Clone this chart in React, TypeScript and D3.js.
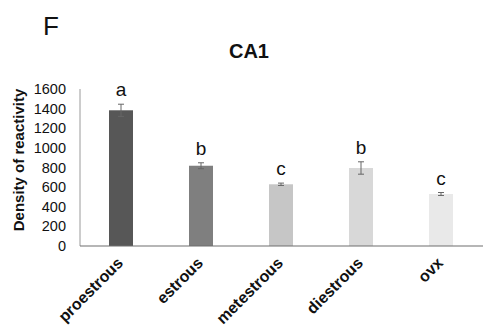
import React, { useEffect, useRef } from "react";
import { select, scaleBand, scaleLinear } from "d3";

const categories = ["proestrous", "estrous", "metestrous", "diestrous", "ovx"];
const means = [1383, 818, 629, 795, 530];
const errors = [62, 30, 12, 63, 15];
const letters = ["a", "b", "c", "b", "c"];
const barColors = ["#575757", "#7f7f7f", "#c6c6c6", "#d8d8d8", "#e9e9e9"];
const yTicks = [0, 200, 400, 600, 800, 1000, 1200, 1400, 1600];

function App() {
  const ref = useRef<SVGSVGElement>(null);

  useEffect(() => {
    const svg = select(ref.current);
    svg.selectAll("*").remove();
    const font = "Arial, 'Liberation Sans', sans-serif";

    const x = scaleBand().domain(categories).range([81, 481]).paddingInner(0.7).paddingOuter(0.35);
    const y = scaleLinear().domain([0, 1600]).range([246, 89]);

    svg.append("rect").attr("width", 491).attr("height", 334).attr("fill", "#fff");

    // panel letter + title
    svg.append("text").text("F").attr("x", 43).attr("y", 35)
      .attr("font-family", font).attr("font-size", 26).attr("fill", "#111");
    svg.append("text").text("CA1").attr("x", 249).attr("y", 58)
      .attr("text-anchor", "middle").attr("font-family", font)
      .attr("font-size", 20).attr("font-weight", "bold").attr("fill", "#111");

    // y axis
    svg.append("line").attr("x1", 80).attr("x2", 80).attr("y1", y(1600)).attr("y2", y(0))
      .attr("stroke", "#9a9a9a").attr("stroke-width", 1);
    svg.selectAll(".ytick").data(yTicks).enter().append("text")
      .attr("class", "ytick")
      .attr("x", 66).attr("y", (d) => y(d)).attr("dy", "0.35em")
      .attr("text-anchor", "end").attr("font-family", font).attr("font-size", 14.5)
      .attr("fill", "#111").text((d) => d);
    svg.append("text").text("Density of reactivity")
      .attr("transform", "rotate(-90)").attr("x", -160).attr("y", 24)
      .attr("text-anchor", "middle").attr("font-family", font)
      .attr("font-size", 15).attr("font-weight", "bold").attr("fill", "#111");

    // bars
    const g = svg.append("g");
    g.selectAll("rect.bar").data(categories).enter().append("rect")
      .attr("class", "bar")
      .attr("x", (d) => x(d)!)
      .attr("width", x.bandwidth())
      .attr("y", (d, i) => y(means[i]))
      .attr("height", (d, i) => y(0) - y(means[i]))
      .attr("fill", (d, i) => barColors[i]);

    // error bars + significance letters
    categories.forEach((c, i) => {
      const cx = x(c)! + x.bandwidth() / 2;
      const top = y(means[i] + errors[i]);
      const bot = y(means[i] - errors[i]);
      const eb = g.append("g").attr("stroke", "#666").attr("stroke-width", 1);
      eb.append("line").attr("x1", cx).attr("x2", cx).attr("y1", top).attr("y2", bot);
      eb.append("line").attr("x1", cx - 3).attr("x2", cx + 3).attr("y1", top).attr("y2", top);
      eb.append("line").attr("x1", cx - 3).attr("x2", cx + 3).attr("y1", bot).attr("y2", bot);
      g.append("text").text(letters[i])
        .attr("x", cx).attr("y", top - 8)
        .attr("text-anchor", "middle").attr("font-family", font)
        .attr("font-size", 19).attr("fill", "#111");
    });

    // x axis
    svg.append("line").attr("x1", 80).attr("x2", 483).attr("y1", y(0)).attr("y2", y(0))
      .attr("stroke", "#6e6e6e").attr("stroke-width", 1.2);
    svg.selectAll(".xlab").data(categories).enter().append("text")
      .attr("class", "xlab")
      .attr("transform", (d) => `translate(${x(d)! + x.bandwidth() / 2 + 3},${264}) rotate(-45)`)
      .attr("text-anchor", "end").attr("font-family", font)
      .attr("font-size", 16).attr("font-weight", "bold").attr("fill", "#111")
      .text((d) => d);
  }, []);

  return (
    <svg
      ref={ref}
      width={491}
      height={334}
      style={{ position: "absolute", left: 0, top: 0, display: "block" }}
    />
  );
}

export default App;
